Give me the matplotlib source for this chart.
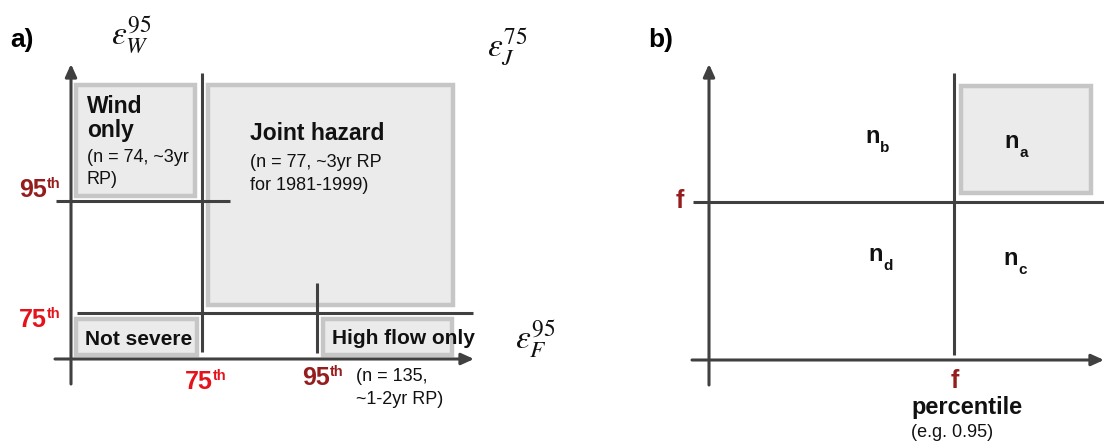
import matplotlib.pyplot as plt
from matplotlib.patches import Rectangle

plt.rcParams['font.family'] = ['Liberation Sans', 'DejaVu Sans']

# ---- layout of the schematic (figure pixels, y down) ----
LINE_C = '#404040'
BOX_FACE = '#ebebeb'
BOX_EDGE = '#c6c6c6'
DARK_RED = '#951d1d'
RED = '#e5121b'

# boxes: (x0, y0, x1, y1) outer edges
boxes_a = [(74, 83, 197, 198), (206, 83, 455, 307), (74, 317, 199, 357), (321, 317, 454, 357)]
boxes_b = [(959, 84, 1093, 195)]

# arrows: (x_start, y_start, x_tip, y_tip)
arrows = [(71, 384, 71, 64), (55, 359, 474, 359),
          (709, 385, 709, 64), (692, 360, 1104, 360)]

# plain lines: (x0, y0, x1, y1)
lines = [(202, 73, 202, 352), (56, 201, 230, 201), (77, 313, 473, 313), (317, 283, 317, 353),
         (954, 73, 954, 355), (693, 202, 1104, 202)]

# region labels: (x, baseline, text, size, bold)
texts = [
    (87, 113, 'Wind', 16.5, True),
    (87, 137, 'only', 16.5, True),
    (87, 162, '(n = 74, ~3yr', 13, False),
    (87, 184, 'RP)', 13, False),
    (250, 140, 'Joint hazard', 16.5, True),
    (250, 167, '(n = 77, ~3yr RP', 13, False),
    (250, 190, 'for 1981-1999)', 13, False),
    (85, 345, 'Not severe', 15, True),
    (332, 344, 'High flow only', 15, True),
    (356, 381, '(n = 135,', 13, False),
    (356, 404, '~1-2yr RP)', 13, False),
    (911, 414, 'percentile', 17, True),
    (911, 437, '(e.g. 0.95)', 13, False),
]

# threshold labels: (x_join, baseline, main, sup, colour)
pct_labels = [
    (47, 197, '95', 'th', DARK_RED),
    (47, 327, '75', 'th', RED),
    (213, 389, '75', 'th', RED),
    (330, 385, '95', 'th', DARK_RED),
]

# contingency cells in panel b: (x_join, baseline, letter)
cells = [(880, 143, 'b'), (1019, 148, 'a'), (883, 261, 'd'), (1018, 265, 'c')]

# epsilon labels: (x, y_center, tex)
eps_labels = [(111, 35, r'$\varepsilon_W^{95}$'), (487, 47, r'$\varepsilon_J^{75}$'),
              (515, 340, r'$\varepsilon_F^{95}$')]

fig = plt.figure(figsize=(11.04, 4.44), dpi=100)
ax = fig.add_axes([0, 0, 1, 1])
ax.set_xlim(0, 1104)
ax.set_ylim(444, 0)
ax.axis('off')

for (x0, y0, x1, y1) in boxes_a + boxes_b:
    ax.add_patch(Rectangle((x0 + 2.2, y0 + 2.2), x1 - x0 - 4.4, y1 - y0 - 4.4,
                           facecolor=BOX_FACE, edgecolor=BOX_EDGE, lw=3.2, zorder=1))

for (x0, y0, x1, y1) in lines:
    ax.plot([x0, x1], [y0, y1], color=LINE_C, lw=2.2, solid_capstyle='butt', zorder=3)

for (x0, y0, x1, y1) in arrows:
    ax.annotate('', xy=(x1, y1), xytext=(x0, y0),
                arrowprops=dict(arrowstyle='-|>,head_length=0.75,head_width=0.34',
                                color=LINE_C, lw=2.2, shrinkA=0, shrinkB=0),
                zorder=3)

for (x, y, s, size, bold) in texts:
    ax.text(x, y, s, fontsize=size, fontweight='bold' if bold else 'normal',
            ha='left', va='baseline', color='#111111', zorder=4)

for (x, y, main, sup, col) in pct_labels:
    ax.text(x, y, main, fontsize=18, fontweight='bold', color=col, ha='right', va='baseline')
    ax.text(x, y - 9, sup, fontsize=10.5, fontweight='bold', color=col, ha='left', va='baseline')

for (x, y, sub) in cells:
    ax.text(x, y, 'n', fontsize=17, fontweight='bold', color='#111111', ha='right', va='baseline')
    ax.text(x, y + 9, sub, fontsize=11, fontweight='bold', color='#111111', ha='left', va='baseline')

# "f" thresholds in panel b
ax.text(684, 208, 'f', fontsize=18, fontweight='bold', color=DARK_RED, ha='right', va='baseline')
ax.text(955, 388, 'f', fontsize=18, fontweight='bold', color=DARK_RED, ha='center', va='baseline')

for (x, y, s) in eps_labels:
    ax.text(x, y, s, fontsize=24, math_fontfamily='stix', ha='left', va='center', color='#111111')

ax.text(10, 47, 'a)', fontsize=19, fontweight='bold', ha='left', va='baseline')
ax.text(648, 47, 'b)', fontsize=19, fontweight='bold', ha='left', va='baseline')

fig.savefig('out.png', dpi=100)
